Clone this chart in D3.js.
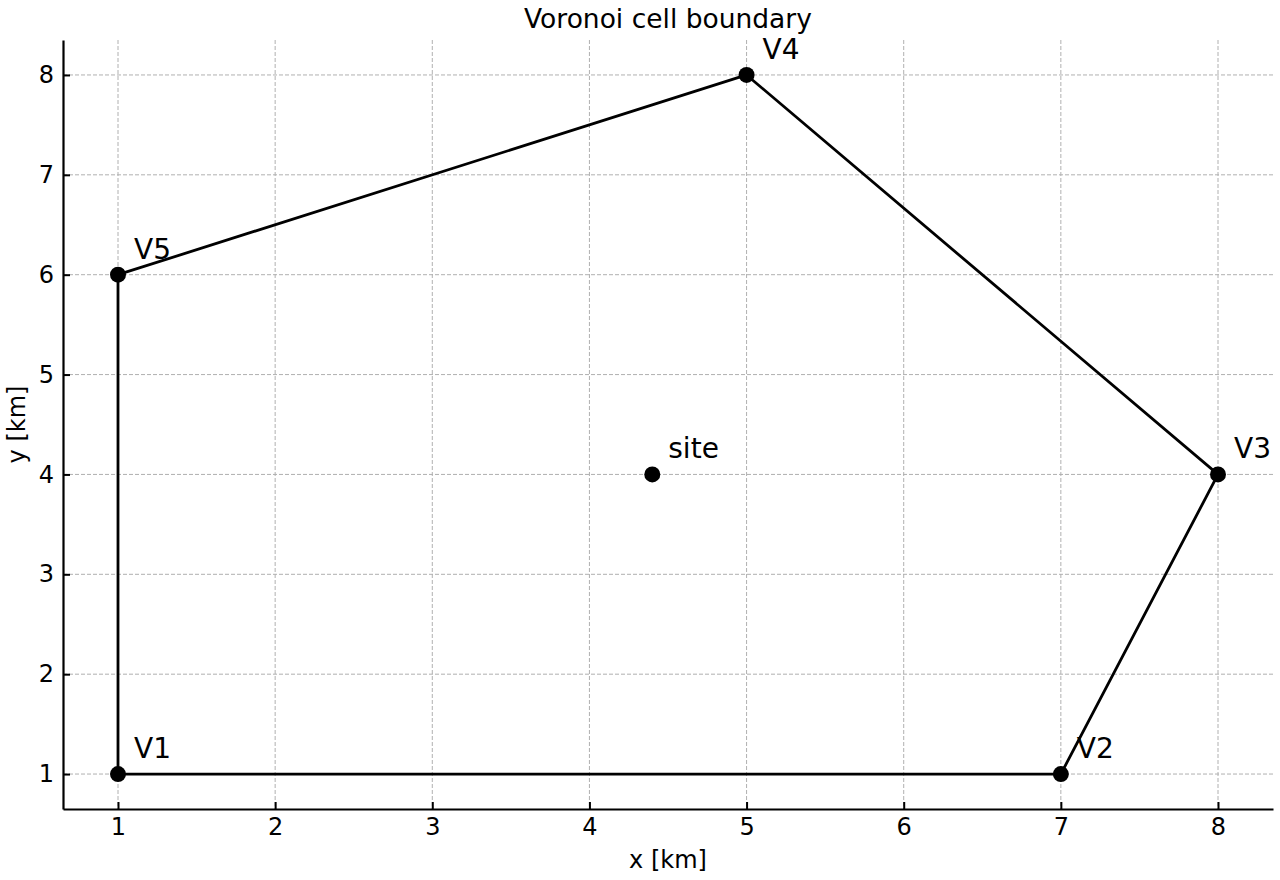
<!DOCTYPE html>
<html>
<head>
<meta charset="utf-8">
<script src="https://cdn.jsdelivr.net/npm/d3@7"></script>
<style>
  body { margin: 0; background: #fff; }
  text { font-family: "DejaVu Sans", sans-serif; fill: #000; }
</style>
</head>
<body>
<div id="chart"></div>
<script>
// cell vertices, in order round the boundary
var vertexNames = ["V1", "V2", "V3", "V4", "V5"];
var vertexX = [1, 7, 8, 5, 1];
var vertexY = [1, 1, 4, 8, 6];
var siteName = "site";
var siteX = 4.4;
var siteY = 4;
var xTicks = [1, 2, 3, 4, 5, 6, 7, 8];
var yTicks = [1, 2, 3, 4, 5, 6, 7, 8];

var svgWidth = 1280;
var svgHeight = 880;
var margin = { top: 40, right: 7, bottom: 71, left: 63 };
var width = svgWidth - margin.left - margin.right;
var height = svgHeight - margin.top - margin.bottom;

var svg = d3.select("#chart")
  .append("svg")
  .attr("width", svgWidth)
  .attr("height", svgHeight);

var chartGroup = svg.append("g")
  .attr("transform", `translate(${margin.left}, ${margin.top})`);

var xScale = d3.scaleLinear().domain([0.65, 8.35]).range([0, width]);
var yScale = d3.scaleLinear().domain([0.65, 8.35]).range([height, 0]);

// grid
chartGroup.append("g").selectAll("line")
  .data(xTicks).enter().append("line")
  .attr("x1", d => xScale(d)).attr("x2", d => xScale(d))
  .attr("y1", 0).attr("y2", height)
  .attr("stroke", "#b0b0b0").attr("stroke-width", 1)
  .attr("stroke-dasharray", "4,2");
chartGroup.append("g").selectAll("line")
  .data(yTicks).enter().append("line")
  .attr("y1", d => yScale(d)).attr("y2", d => yScale(d))
  .attr("x1", 0).attr("x2", width)
  .attr("stroke", "#b0b0b0").attr("stroke-width", 1)
  .attr("stroke-dasharray", "4,2");

// axes (ticks point inward)
var xAxis = chartGroup.append("g")
  .attr("transform", `translate(0, ${height})`)
  .call(d3.axisBottom(xScale).tickValues(xTicks).tickFormat(d3.format("d")).tickSizeOuter(0).tickSizeInner(-7).tickPadding(9));
var yAxis = chartGroup.append("g")
  .call(d3.axisLeft(yScale).tickValues(yTicks).tickFormat(d3.format("d")).tickSizeOuter(0).tickSizeInner(-7).tickPadding(9));

[xAxis, yAxis].forEach(function(ax) {
  ax.attr("font-size", 24).attr("font-family", "DejaVu Sans");
  ax.select(".domain").attr("stroke", "#000").attr("stroke-width", 2.2);
  ax.selectAll(".tick line").attr("stroke", "#000").attr("stroke-width", 2);
  ax.selectAll(".tick text").attr("fill", "#000");
});

// polygon boundary
var pts = vertexX.map((x, i) => [x, vertexY[i]]);
var line = d3.line().x(d => xScale(d[0])).y(d => yScale(d[1]));
chartGroup.append("path")
  .attr("d", line(pts.concat([pts[0]])))
  .attr("fill", "none")
  .attr("stroke", "#000")
  .attr("stroke-width", 2.8)
  .attr("stroke-linejoin", "round");

// points
var allPts = pts.map((p, i) => ({ x: p[0], y: p[1], name: vertexNames[i] }));
allPts.push({ x: siteX, y: siteY, name: siteName });

chartGroup.selectAll("circle")
  .data(allPts).enter().append("circle")
  .attr("cx", d => xScale(d.x))
  .attr("cy", d => yScale(d.y))
  .attr("r", 8)
  .attr("fill", "#000");

chartGroup.selectAll("text.ptLabel")
  .data(allPts).enter().append("text")
  .attr("class", "ptLabel")
  .attr("x", d => xScale(d.x) + 16)
  .attr("y", d => yScale(d.y) - 16)
  .attr("font-size", 28)
  .text(d => d.name);

// title and axis labels
svg.append("text")
  .attr("x", margin.left + width / 2)
  .attr("y", 28)
  .attr("text-anchor", "middle")
  .attr("font-size", 26.5)
  .text("Voronoi cell boundary");

svg.append("text")
  .attr("x", margin.left + width / 2)
  .attr("y", 868)
  .attr("text-anchor", "middle")
  .attr("font-size", 24)
  .text("x [km]");

svg.append("text")
  .attr("transform", `translate(25, ${margin.top + height / 2}) rotate(-90)`)
  .attr("text-anchor", "middle")
  .attr("font-size", 24)
  .text("y [km]");
</script>
</body>
</html>
